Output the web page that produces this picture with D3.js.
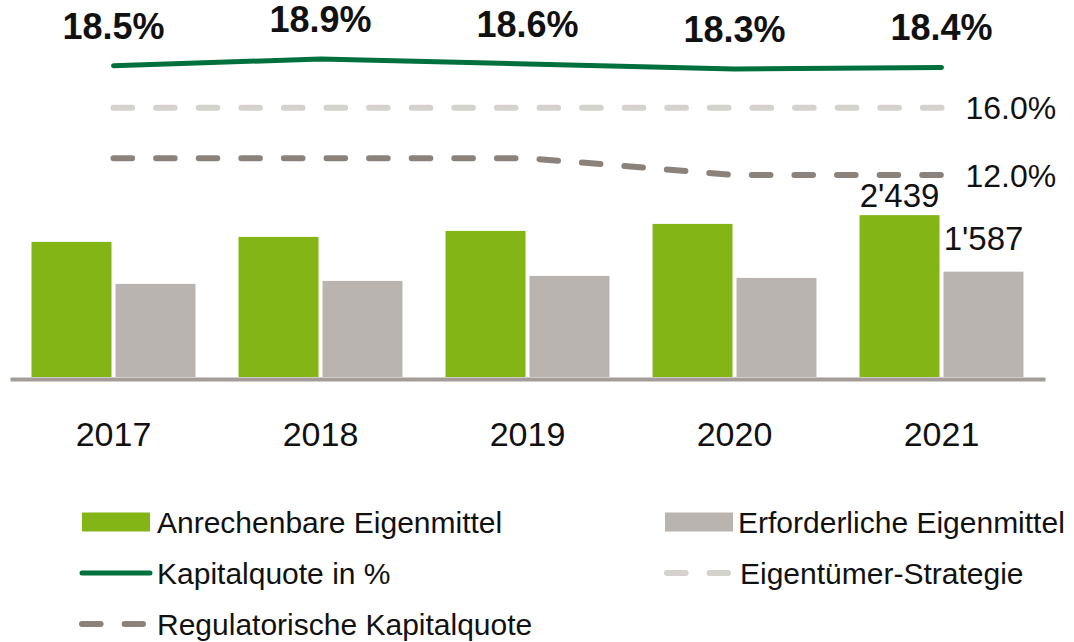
<!DOCTYPE html>
<html>
<head>
<meta charset="utf-8">
<script src="https://cdn.jsdelivr.net/npm/d3@7"></script>
<style>
  body { margin: 0; background: #fff; }
  svg text { font-family: 'Liberation Sans', Arial, sans-serif; fill: #111; }
</style>
</head>
<body>
<div id="graf"></div>
<script>
// datos
const years = ['2017', '2018', '2019', '2020', '2021']
const anrechenbar = [2036, 2111, 2202, 2307, 2439]
const erforderlich = [1403, 1448, 1523, 1493, 1587]
const kapitalquote = [18.5, 18.9, 18.6, 18.3, 18.4]
const strategie = [16.0, 16.0, 16.0, 16.0, 16.0]
const regulatorisch = [13.0, 13.0, 13.0, 12.0, 12.0]
const legendLabels = [
  'Anrechenbare Eigenmittel', 'Erforderliche Eigenmittel',
  'Kapitalquote in %', 'Eigentümer-Strategie',
  'Regulatorische Kapitalquote'
]

const anchoTotal = 1074
const altoTotal = 642

const colores = {
  verde: '#84b516',
  gris: '#b9b4b0',
  linea: '#00703c',
  claro: '#d5d1cc',
  oscuro: '#8b827b',
  eje: '#a39c98'
}

const svg = d3.select('#graf')
  .append('svg')
  .attr('width', anchoTotal)
  .attr('height', altoTotal)

const base = 377

const x = d3.scaleBand()
  .domain(years)
  .range([10, 1045])
  .paddingInner(0.208)
  .paddingOuter(0.104)

const x1 = d3.scaleBand()
  .domain(['a', 'b'])
  .range([0, x.bandwidth()])
  .paddingInner(0.0476)

const y = d3.scaleLinear()
  .domain([0, 2500])
  .range([base, 211.1])

const yPct = d3.scaleLinear()
  .domain([12, 20])
  .range([175, 40.5])

const cx = d => x(d) + x.bandwidth() / 2

// eje x
const ejeX = svg.append('g')
  .attr('transform', `translate(0, ${base + 2})`)
  .call(d3.axisBottom(x).tickSize(0).tickSizeOuter(0))

ejeX.select('.domain')
  .attr('stroke', colores.eje)
  .attr('stroke-width', 4)

ejeX.selectAll('text')
  .attr('y', 67)
  .attr('dy', 0)
  .attr('font-size', 34)
  .attr('fill', '#111')

// barras
const filas = years.map((yr, i) => ({ yr, a: anrechenbar[i], b: erforderlich[i] }))

const grupos = svg.selectAll('.grupo')
  .data(filas)
  .enter()
  .append('g')
  .attr('transform', d => `translate(${x(d.yr)}, 0)`)

grupos.append('rect')
  .attr('x', x1('a'))
  .attr('y', d => y(d.a))
  .attr('width', x1.bandwidth())
  .attr('height', d => base - y(d.a))
  .attr('fill', colores.verde)

grupos.append('rect')
  .attr('x', x1('b'))
  .attr('y', d => y(d.b))
  .attr('width', x1.bandwidth())
  .attr('height', d => base - y(d.b))
  .attr('fill', colores.gris)

// etiquetas del último año
const ultimo = filas[filas.length - 1]
const fmt = v => d3.format(',')(v).replace(/,/g, "'")

svg.append('text')
  .attr('x', x(ultimo.yr) + x1('a') + x1.bandwidth() / 2)
  .attr('y', y(ultimo.a) - 8)
  .attr('text-anchor', 'middle')
  .attr('font-size', 33)
  .text(fmt(ultimo.a))

svg.append('text')
  .attr('x', x(ultimo.yr) + x1('b') + x1.bandwidth() / 2)
  .attr('y', y(ultimo.b) - 22)
  .attr('text-anchor', 'middle')
  .attr('font-size', 33)
  .text(fmt(ultimo.b))

// lineas
const linea = d3.line()
  .x((d, i) => cx(years[i]))
  .y(d => yPct(d))

const guiones = '18.6,24'

svg.append('path')
  .datum(strategie)
  .attr('d', linea)
  .attr('fill', 'none')
  .attr('stroke', colores.claro)
  .attr('stroke-width', 6)
  .attr('stroke-linecap', 'round')
  .attr('stroke-dasharray', guiones)

svg.append('path')
  .datum(regulatorisch)
  .attr('d', linea)
  .attr('fill', 'none')
  .attr('stroke', colores.oscuro)
  .attr('stroke-width', 6)
  .attr('stroke-linecap', 'round')
  .attr('stroke-dasharray', guiones)

svg.append('path')
  .datum(kapitalquote)
  .attr('d', linea)
  .attr('fill', 'none')
  .attr('stroke', colores.linea)
  .attr('stroke-width', 5)
  .attr('stroke-linecap', 'round')
  .attr('stroke-linejoin', 'round')

svg.selectAll('.pct')
  .data(kapitalquote)
  .enter()
  .append('text')
  .attr('x', (d, i) => cx(years[i]))
  .attr('y', d => yPct(d) - 27)
  .attr('text-anchor', 'middle')
  .attr('font-size', 36)
  .attr('font-weight', 'bold')
  .text(d => `${d.toFixed(1)}%`)

const finales = [strategie, regulatorisch]
svg.selectAll('.fin')
  .data(finales)
  .enter()
  .append('text')
  .attr('x', cx(years[years.length - 1]) + 24)
  .attr('y', d => yPct(d[d.length - 1]))
  .attr('dy', '0.36em')
  .attr('font-size', 32)
  .text(d => `${d[d.length - 1].toFixed(1)}%`)

// leyenda
const leyenda = [
  { tipo: 'rect', color: colores.verde, x: 82, y: 522 },
  { tipo: 'rect', color: colores.gris, x: 665, y: 522 },
  { tipo: 'line', color: colores.linea, x: 82, y: 573 },
  { tipo: 'dash', color: colores.claro, x: 667, y: 573 },
  { tipo: 'dash', color: colores.oscuro, x: 82, y: 624 }
]

const items = svg.selectAll('.ley')
  .data(leyenda)
  .enter()
  .append('g')
  .attr('transform', d => `translate(${d.x}, ${d.y})`)

items.filter(d => d.tipo === 'rect')
  .append('rect')
  .attr('x', 0)
  .attr('y', -9.5)
  .attr('width', 68)
  .attr('height', 19)
  .attr('fill', d => d.color)

items.filter(d => d.tipo === 'line')
  .append('line')
  .attr('x1', 0)
  .attr('x2', 68)
  .attr('stroke', d => d.color)
  .attr('stroke-width', 5)
  .attr('stroke-linecap', 'round')

items.filter(d => d.tipo === 'dash')
  .append('line')
  .attr('x1', 0)
  .attr('x2', 61)
  .attr('stroke', d => d.color)
  .attr('stroke-width', 6)
  .attr('stroke-linecap', 'round')
  .attr('stroke-dasharray', guiones)

items.append('text')
  .attr('x', d => d.x < 300 ? 75 : 73)
  .attr('y', 11)
  .attr('font-size', 30)
  .text((d, i) => legendLabels[i])
</script>
</body>
</html>
